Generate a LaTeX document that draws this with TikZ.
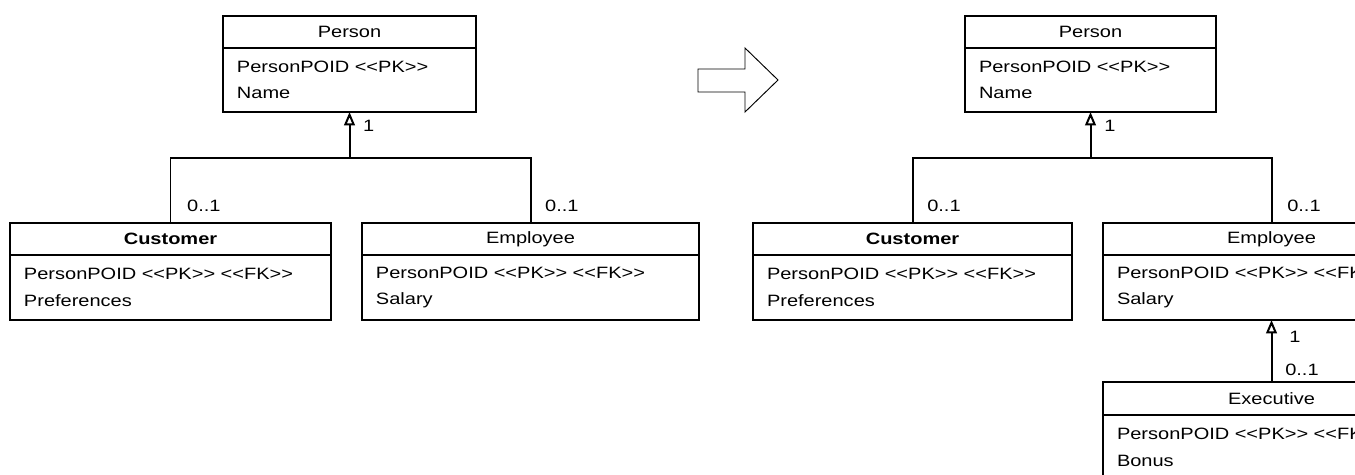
\documentclass[tikz,border=0pt]{standalone}
\usepackage{fontspec}
\newfontfamily\umlfont{Liberation Sans}[FakeStretch=1.22]
\usetikzlibrary{positioning,arrows.meta}
\newcommand{\stereo}[1]{<\kern0pt<#1>\kern0pt>}

\begin{document}
\begin{tikzpicture}[x=0.03cm,y=-0.03cm,
    classhead/.style={draw, line width=1.7pt, outer sep=0pt, inner sep=0pt,
      minimum height=0.96cm, font=\umlfont\fontsize{14pt}{17pt}\selectfont},
    classbody/.style={draw, line width=1.7pt, outer sep=0pt, inner xsep=0.42cm,
      inner ysep=0pt, align=left, font=\umlfont\fontsize{14pt}{22.5pt}\selectfont},
    mult/.style={anchor=west, inner sep=0pt, font=\umlfont\fontsize{14pt}{17pt}\selectfont},
    link/.style={line width=1.7pt},
    generalize/.style={line width=1.7pt, -{Triangle[open,length=0.4cm,width=0.32cm]}}]
    \useasboundingbox (0,0) rectangle (1355,474);
    \clip (0,0) rectangle (1355,474);
    % Before: Person with two subclasses
    \node[classhead, minimum width=7.59cm] (person) at (349.5,32) {Person};
    \node[classbody, text width=6.75cm, minimum height=1.92cm, below=0pt of person] (personattr) {PersonPOID \stereo{PK}\\Name};
    \node[classhead, minimum width=9.63cm] (customer) at (170.5,239) {\textbf{Customer}};
    \node[classbody, text width=8.79cm, minimum height=1.95cm, below=0pt of customer] (customerattr) {PersonPOID \stereo{PK} \stereo{FK}\\Preferences};
    \node[classhead, minimum width=10.11cm] (employee) at (530.5,239) {Employee};
    \node[classbody, text width=9.27cm, minimum height=1.95cm, below=0pt of employee] (employeeattr) {PersonPOID \stereo{PK} \stereo{FK}\\Salary};
    \coordinate (fork) at (personattr.south |- 0,158);
    \draw[link] (customer.north) |- (fork);
    \draw[link] (employee.north) |- (fork);
    \draw[generalize] (fork) -- (personattr.south);
    \node[mult] (personmult) at (363,126) {1};
    \node[mult] (customermult) at (187,206) {0..1};
    \node[mult] (employeemult) at (545,206) {0..1};
    % Refactoring arrow
    \draw[line width=0.8pt] (698,69) -- (745,69) -- (745,48) -- (778,80)
      -- (745,112) -- (745,92) -- (698,92) -- cycle;
    % After: Executive added below Employee
    \node[classhead, minimum width=7.53cm] (newperson) at (1090.5,32) {Person};
    \node[classbody, text width=6.69cm, minimum height=1.92cm, below=0pt of newperson] (newpersonattr) {PersonPOID \stereo{PK}\\Name};
    \node[classhead, minimum width=9.57cm] (newcustomer) at (912.5,239) {\textbf{Customer}};
    \node[classbody, text width=8.73cm, minimum height=1.95cm, below=0pt of newcustomer] (newcustomerattr) {PersonPOID \stereo{PK} \stereo{FK}\\Preferences};
    \node[classhead, minimum width=10.11cm] (newemployee) at (1271.5,239) {Employee};
    \node[classbody, text width=9.27cm, minimum height=1.95cm, below=0pt of newemployee] (newemployeeattr) {PersonPOID \stereo{PK} \stereo{FK}\\Salary};
    \node[classhead, minimum width=10.11cm, minimum height=0.99cm] (executive) at (1271.5,398.5) {Executive};
    \node[classbody, text width=9.27cm, minimum height=1.95cm, below=0pt of executive] (executiveattr) {PersonPOID \stereo{PK} \stereo{FK}\\Bonus};
    \coordinate (newfork) at (newpersonattr.south |- 0,158);
    \draw[link] (newcustomer.north) |- (newfork);
    \draw[link] (newemployee.north) |- (newfork);
    \draw[generalize] (newfork) -- (newpersonattr.south);
    \draw[generalize] (executive.north) -- (newemployeeattr.south);
    \node[mult] (newpersonmult) at (1104,126) {1};
    \node[mult] (newcustomermult) at (927,206) {0..1};
    \node[mult] (newemployeemult) at (1287,206) {0..1};
    \node[mult] (empmult) at (1289,337) {1};
    \node[mult] (executivemult) at (1285,370) {0..1};
\end{tikzpicture}
\end{document}
